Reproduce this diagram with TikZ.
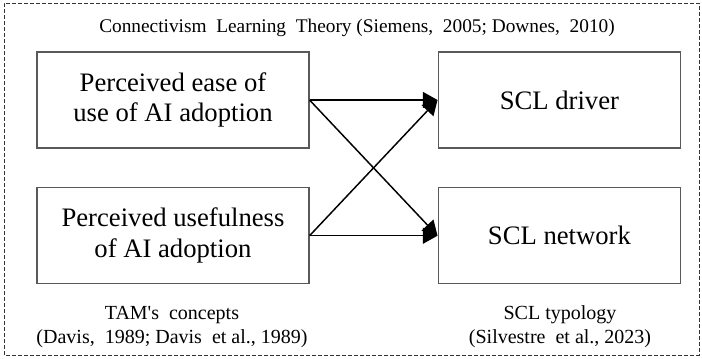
\documentclass[tikz,border=0pt]{standalone}
\usepackage{fontspec}
\setmainfont{Liberation Serif}
\usetikzlibrary{positioning}
\usetikzlibrary{arrows.meta}

\begin{document}
\begin{tikzpicture}[x=1pt,y=1pt,
	boxnode/.style={rectangle, draw=black!65, line width=0.8pt, minimum height=72pt, align=center, font=\fontsize{20}{23}\selectfont},
	capnode/.style={align=center, font=\fontsize{15}{18}\selectfont},
	arr/.style={line width=1.1pt, -{Triangle[length=11pt,width=12pt]}}]
	\useasboundingbox (0,0) rectangle (526.5,268.5);
	\draw[black!80, line width=0.6pt, dash pattern=on 3pt off 1.5pt] (3,2.25) rectangle (524.25,266.25);
	\node[capnode, font=\fontsize{14.5}{17}\selectfont] (theory) at (267.75,247.5) {Connectivism\ \ Learning\ \ Theory (Siemens,\ \ 2005; Downes,\ \ 2010)};
	\node[boxnode, minimum width=204pt] (ease) at (129.75,193.5) {Perceived ease of\\use of AI adoption};
	\node[boxnode, minimum width=204pt] (useful) [below = 29pt of ease] {Perceived usefulness\\of AI adoption};
	\node[boxnode, minimum width=182pt] (driver) [right = 96pt of ease] {SCL driver};
	\node[boxnode, minimum width=182pt] (network) [right = 96pt of useful] {SCL network};
	\node[capnode] (tam) at (129,23.5) {TAM\textquotesingle s\ \ concepts\\(Davis,\ \ 1989; Davis\ \ et al., 1989)};
	\node[capnode] (typology) at (420,23.5) {SCL typology\\(Silvestre\ \ et al., 2023)};
	\draw[arr] (ease.east) -- (driver.west);
	\draw[arr] (ease.east) -- (network.west);
	\draw[arr] (useful.east) -- (driver.west);
	\draw[arr] (useful.east) -- (network.west);
\end{tikzpicture}
\end{document}
